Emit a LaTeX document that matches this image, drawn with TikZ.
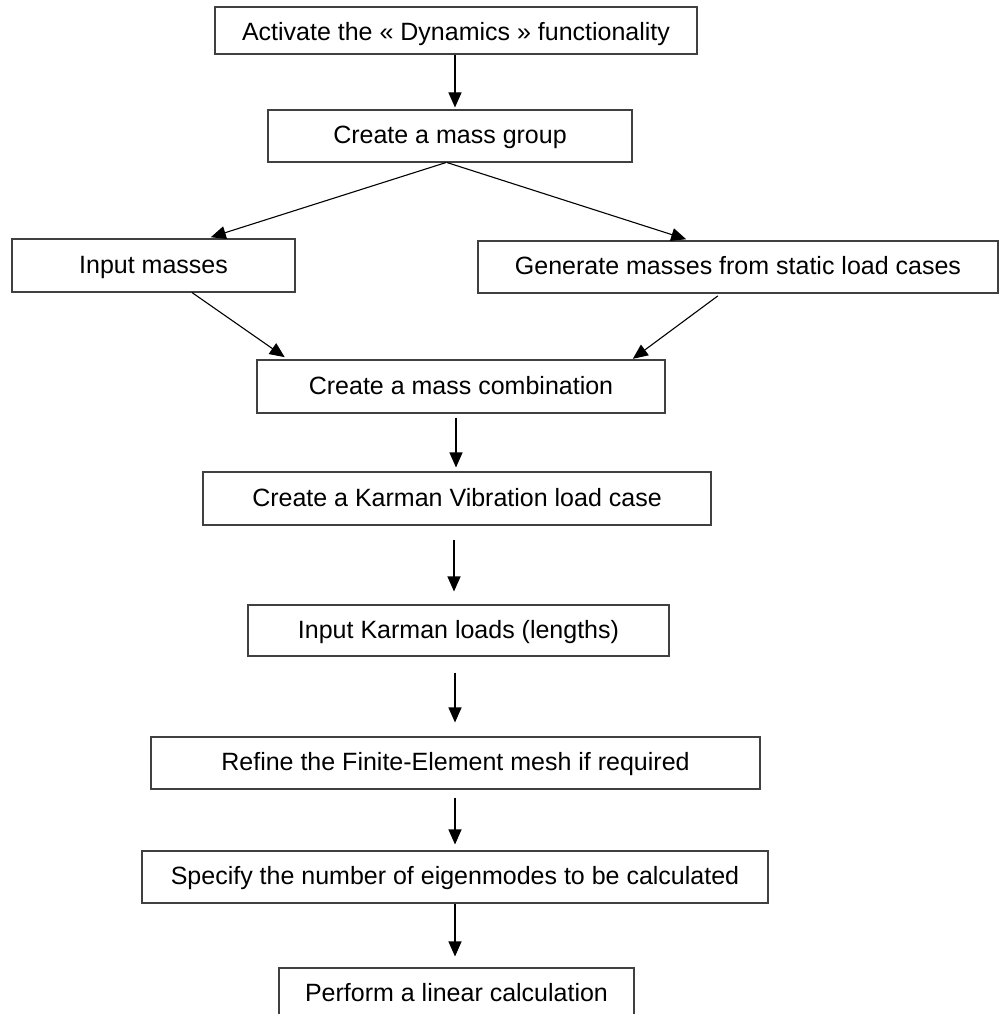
\documentclass[tikz,border=0pt]{standalone}
\usepackage{fontspec}
\setmainfont{Liberation Sans}
\usetikzlibrary{arrows.meta,calc}
\begin{document}
\begin{tikzpicture}[x=1pt,y=-1pt,
  stepbox/.style={draw=black!75, line width=1.1pt, rectangle, inner sep=0pt,
    font=\fontsize{25}{30}\selectfont, text height=21.4pt, text depth=6pt, align=center},
  arr/.style={line width=1.1pt, -{Triangle[length=15pt,width=13pt]}}]
\useasboundingbox (0,0) rectangle (1004,1014);
\node[stepbox, minimum width=482pt, minimum height=47pt, text height=27pt] (b1) at (456,30.5) {Activate the « Dynamics » functionality};
\node[stepbox, minimum width=364pt, minimum height=52pt] (b2) at (450,136) {Create a mass group};
\node[stepbox, minimum width=283pt, minimum height=53pt] (b3) at (153.5,265.5) {Input masses};
\node[stepbox, minimum width=520pt, minimum height=52pt] (b4) at (738,267) {Generate masses from static load cases};
\node[stepbox, minimum width=408pt, minimum height=53pt] (b5) at (461,386.5) {Create a mass combination};
\node[stepbox, minimum width=508pt, minimum height=53pt] (b6) at (457,498.5) {Create a Karman Vibration load case};
\node[stepbox, minimum width=421pt, minimum height=51pt] (b7) at (458.5,630.5) {Input Karman loads (lengths)};
\node[stepbox, minimum width=609pt, minimum height=52pt] (b8) at (455.5,763) {Refine the Finite-Element mesh if required};
\node[stepbox, minimum width=626pt, minimum height=52pt] (b9) at (455,877) {Specify the number of eigenmodes to be calculated};
\node[stepbox, minimum width=355pt, minimum height=52pt] (b10) at (456.5,994) {Perform a linear calculation};

\draw[arr, shorten >=2pt] ($(b1.south)+(-1,0)$) -- ($(b2.north)+(5,0)$);
\draw[arr, shorten >=4pt] ($(b2.south)+(-4,0)$) -- ($(b3.north)+(53.5,0)$);
\draw[arr, shorten >=4pt] ($(b2.south)+(-3,0)$) -- ($(b4.north)+(-48,0)$);
\draw[arr, shorten >=4pt] ($(b3.south)+(38.5,0)$) -- ($(b5.north)+(-173,0)$);
\draw[arr, shorten <=4pt, shorten >=1pt] ($(b4.south)+(-17,0)$) -- ($(b5.north)+(171,0)$);
\draw[arr, shorten <=4pt, shorten >=4pt] ($(b5.south)+(-5,0)$) -- ($(b6.north)+(-1,0)$);
\draw[arr, shorten <=14pt, shorten >=13pt] ($(b6.south)+(-3,0)$) -- ($(b7.north)+(-4.5,0)$);
\draw[arr, shorten <=16pt, shorten >=14pt] ($(b7.south)+(-3.5,0)$) -- ($(b8.north)+(-0.5,0)$);
\draw[arr, shorten <=8pt, shorten >=6pt] ($(b8.south)+(-0.5,0)$) -- (b9.north);
\draw[arr, shorten >=11pt] (b9.south) -- ($(b10.north)+(-1.5,0)$);
\end{tikzpicture}
\end{document}
